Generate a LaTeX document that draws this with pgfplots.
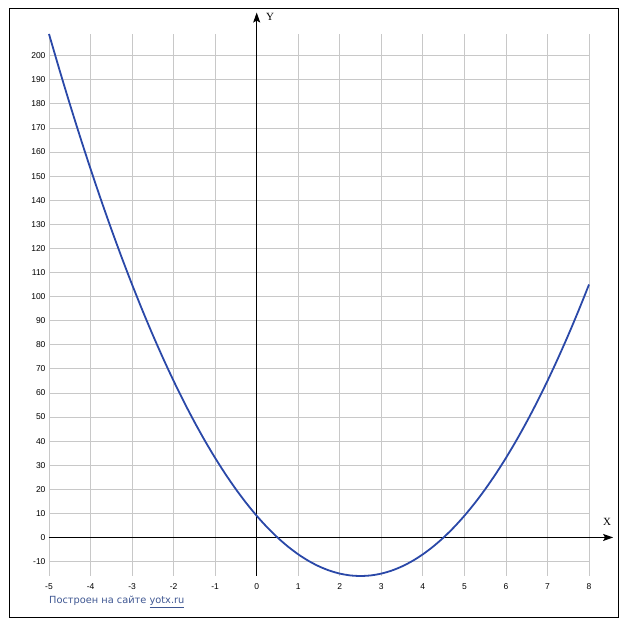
\documentclass[border=0pt]{standalone}
\usepackage{fontspec}
\setmainfont{Liberation Sans}
\newfontfamily\dejavu{DejaVu Sans}
\newfontfamily\serifx{Liberation Serif}
\usepackage{pgfplots}
\pgfplotsset{compat=1.18}
\usetikzlibrary{arrows.meta}
\definecolor{curve}{RGB}{42,72,168}
\definecolor{gridc}{RGB}{200,200,200}
\definecolor{foot}{RGB}{62,86,145}
\begin{document}
\begin{tikzpicture}[x=1pt,y=1pt]
\path (0,0) rectangle (627,630);
\draw[line width=1pt] (9,12) rectangle (618,621);
\begin{axis}[
  at={(49pt,54pt)}, anchor=south west,
  scale only axis, width=540pt, height=542pt,
  xmin=-5, xmax=8, ymin=-16, ymax=209,
  xtick={-5,...,8},
  ytick={-10,0,...,200},
  grid=major,
  major grid style={draw=gridc, line width=0.8pt},
  axis line style={draw=none},
  tick style={draw=none},
  clip=false,
  tick label style={font=\fontsize{8.5}{9}\selectfont},
  /pgf/number format/assume math mode=true,
  xticklabel style={yshift=-4pt},
  yticklabel style={xshift=0pt},
]
\draw[line width=1pt, -{Stealth[length=10pt,width=7pt,inset=2pt]}] (axis cs:-5,0) -- (axis cs:8.58,0);
\draw[line width=1pt, -{Stealth[length=10pt,width=7pt,inset=2pt]}] (axis cs:0,-16) -- (axis cs:0,217.9);
\addplot[curve, line width=1.8pt, smooth] coordinates {
(-5,209) (-4.75,194.25) (-4.5,180) (-4.25,166.25) (-4,153) (-3.75,140.25) (-3.5,128) (-3.25,116.25)
(-3,105) (-2.75,94.25) (-2.5,84) (-2.25,74.25) (-2,65) (-1.75,56.25) (-1.5,48) (-1.25,40.25)
(-1,33) (-0.75,26.25) (-0.5,20) (-0.25,14.25) (0,9) (0.25,4.25) (0.5,0) (0.75,-3.75)
(1,-7) (1.25,-9.75) (1.5,-12) (1.75,-13.75) (2,-15) (2.25,-15.75) (2.5,-16) (2.75,-15.75)
(3,-15) (3.25,-13.75) (3.5,-12) (3.75,-9.75) (4,-7) (4.25,-3.75) (4.5,0) (4.75,4.25)
(5,9) (5.25,14.25) (5.5,20) (5.75,26.25) (6,33) (6.25,40.25) (6.5,48) (6.75,56.25)
(7,65) (7.25,74.25) (7.5,84) (7.75,94.25) (8,105)
};
\end{axis}
\node[font=\serifx\fontsize{11}{12}\selectfont] at (607,108) {X};
\node[font=\serifx\fontsize{11}{12}\selectfont] at (270,613) {Y};
\node[anchor=west, inner sep=0pt, font=\dejavu\fontsize{9.8}{11}\selectfont, text=foot] at (49,28) {Построен на сайте \underline{yotx.ru}};
\end{tikzpicture}
\end{document}
